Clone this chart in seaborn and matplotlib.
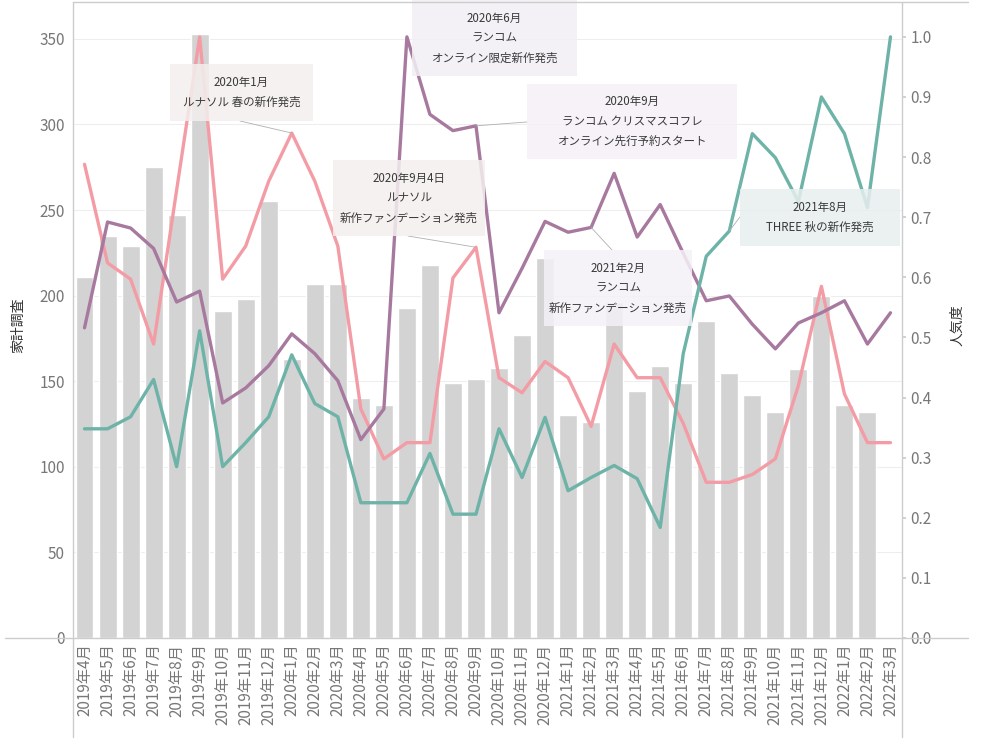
import numpy as np
import pandas as pd
import matplotlib
matplotlib.use("Agg")
import matplotlib.pyplot as plt
import seaborn as sns
from matplotlib.patches import Rectangle
from matplotlib.lines import Line2D

# データ
months = [f"{y}年{m}月" for y, m in
          [(2019, m) for m in range(4, 13)] + [(2020, m) for m in range(1, 13)] +
          [(2021, m) for m in range(1, 13)] + [(2022, m) for m in range(1, 4)]]

kakei = [211, 235, 229, 275, 247, 353, 191, 198, 255, 163, 207, 207,
         140, 136, 193, 218, 149, 151, 158, 177, 222, 130, 126, 196,
         144, 159, 149, 185, 155, 142, 132, 157, 200, 136, 132, np.nan]

pink = [0.788, 0.624, 0.597, 0.489, 0.745, 1.0, 0.597, 0.652, 0.76, 0.84, 0.76, 0.652,
        0.381, 0.298, 0.325, 0.325, 0.599, 0.65, 0.433, 0.408, 0.46, 0.433, 0.352, 0.489,
        0.433, 0.433, 0.357, 0.259, 0.259, 0.272, 0.298, 0.42, 0.585, 0.406, 0.325, 0.325]

purple = [0.516, 0.692, 0.682, 0.648, 0.559, 0.577, 0.391, 0.416, 0.453, 0.506, 0.473, 0.428,
          0.330, 0.381, 1.0, 0.871, 0.844, 0.852, 0.541, 0.615, 0.693, 0.675, 0.683, 0.773,
          0.667, 0.721, 0.64, 0.561, 0.569, 0.522, 0.481, 0.524, 0.541, 0.561, 0.489, 0.541]

teal = [0.348, 0.348, 0.368, 0.430, 0.285, 0.511, 0.285, 0.325, 0.368, 0.471, 0.39, 0.368,
        0.225, 0.225, 0.225, 0.307, 0.206, 0.206, 0.348, 0.267, 0.367, 0.245, 0.267, 0.287,
        0.265, 0.184, 0.473, 0.635, 0.677, 0.839, 0.799, 0.726, 0.900, 0.839, 0.716, 1.0]

# 注釈: テキスト, 対象月, 対象系列
notes = [
    ("2020年1月\nルナソル 春の新作発売", "2020年1月", "pink"),
    ("2020年6月\nランコム\nオンライン限定新作発売", "2020年6月", "purple"),
    ("2020年9月\nランコム クリスマスコフレ\nオンライン先行予約スタート", "2020年9月", "purple"),
    ("2020年9月4日\nルナソル\n新作ファンデーション発売", "2020年9月", "pink"),
    ("2021年2月\nランコム\n新作ファンデーション発売", "2021年2月", "purple"),
    ("2021年8月\nTHREE 秋の新作発売", "2021年8月", "teal"),
]
# 注釈ボックスの位置 (px: x0, y0, x1, y1), 色, 引き出し線の始点
note_boxes = [
    ((170, 64, 313, 121), "#f3efee", (240, 121)),
    ((412, 0, 577, 76), "#f3eff5", None),
    ((527, 84, 737, 159), "#f5f0f7", (527, 122)),
    ((333, 160, 485, 236), "#f3efee", (408, 236)),
    ((544, 250, 692, 326), "#f5f1f7", (612, 250)),
    ((740, 189, 900, 246), "#e8eeee", (740, 217)),
]

series = {"pink": pink, "purple": purple, "teal": teal}
colors = {"pink": "#f49ca5", "purple": "#a7799f", "teal": "#6db3a8"}

sns.set_theme(style="white")
plt.rcParams["font.family"] = ["Noto Sans CJK JP", "DejaVu Sans"]

W, H = 985, 744
fig = plt.figure(figsize=(W / 100, H / 100), dpi=100)
L, R, T, B = 73, 902, 2, 638
ax = fig.add_axes([L / W, 1 - B / H, (R - L) / W, (B - T) / H])

df = pd.DataFrame({"month": months, "kakei": kakei})
sns.barplot(data=df, x="month", y="kakei", color="#d3d3d3", saturation=1,
            width=0.78, ax=ax, zorder=1)
ax.set_ylim(0, 371.5)
ax.set_xlim(-0.5, len(months) - 0.5)
ax.set_yticks(range(0, 351, 50))
ax.yaxis.grid(True, color="#eeeeee", linewidth=0.8)
ax.set_axisbelow(True)

ax2 = ax.twinx()
pos = np.arange(len(months))
for name, vals in series.items():
    sns.lineplot(x=pos, y=vals, color=colors[name], linewidth=2.4, ax=ax2)
ax2.set_ylim(0, 1.058)
ax2.set_yticks(np.arange(0, 1.01, 0.1))
ax2.set_yticklabels([f"{v:.1f}" for v in np.arange(0, 1.01, 0.1)])
ax2.set_xlim(-0.5, len(months) - 0.5)

tick_col = "#777777"
ax.set_xticks(pos)
ax.set_xticklabels(months, rotation=90, fontsize=11, color=tick_col)
ax.tick_params(axis="x", length=0, pad=4)
ax.set_xticks(np.arange(-0.5, len(months), 1), minor=True)
ax.tick_params(axis="x", which="minor", length=10, color="#eeeeee", width=0.8)
ax.tick_params(axis="y", length=0, pad=6, labelsize=11, labelcolor=tick_col)
ax2.tick_params(axis="y", length=3, color="#cccccc", pad=3, labelsize=11, labelcolor=tick_col)
ax.set_xlabel("")

ax.set_ylabel("家計調査", fontsize=10, color="#333333", rotation=90)
ax.yaxis.set_label_coords(-0.058, 0.492)
ax2.set_ylabel("人気度", fontsize=10, color="#333333", rotation=90)
ax2.yaxis.set_label_coords(1.058, 0.492)

for a in (ax, ax2):
    for s in a.spines.values():
        s.set_visible(False)

# 枠線（Tableau風に外へ伸ばす）
line_col = "#cccccc"
for xs, ys in [((L, L), (T, 737)), ((R, R), (T, 737)), ((5, 968), (B, B)), ((L, 968), (T, T))]:
    fig.add_artist(Line2D([x / W for x in xs], [1 - y / H for y in ys],
                          color=line_col, linewidth=1.0))


def px2ax(px, py):
    return (px - L) / (R - L), (B - py) / (B - T)


for (text, month, key), (rect, fc, lead) in zip(notes, note_boxes):
    idx = months.index(month)
    val = series[key][idx]
    x0, y0 = px2ax(rect[0], rect[3])
    x1, y1 = px2ax(rect[2], rect[1])
    if lead is not None:
        ax2.annotate("", xy=(idx, val), xycoords="data",
                     xytext=px2ax(*lead), textcoords="axes fraction",
                     arrowprops=dict(arrowstyle="-", color="#b0b0b0", linewidth=0.6,
                                     shrinkA=0, shrinkB=0), zorder=4)
    ax2.add_patch(Rectangle((x0, y0), x1 - x0, y1 - y0, transform=ax2.transAxes,
                            facecolor=fc, edgecolor="none", alpha=0.85, zorder=5,
                            clip_on=False))
    ax2.text((x0 + x1) / 2, (y0 + y1) / 2, text, transform=ax2.transAxes,
             ha="center", va="center", fontsize=8.3, color="#3a3a3a",
             linespacing=1.7, zorder=6)

fig.savefig("out.png", dpi=100)
